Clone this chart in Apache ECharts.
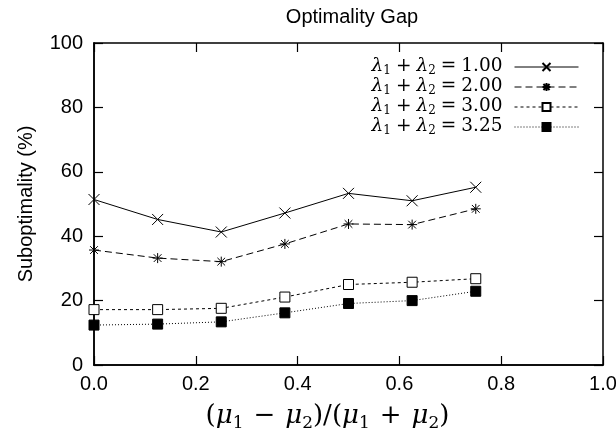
<html>
<head>
<meta charset="utf-8">
<script src="https://cdn.jsdelivr.net/npm/echarts@6/dist/echarts.min.js"></script>
</head>
<body style="margin:0">
<div id="main" style="width:616px;height:433px"></div>
<script>
var ratios = [0, 0.125, 0.25, 0.375, 0.5, 0.625, 0.75];
var seriesNames = ['1.00', '2.00', '3.00', '3.25'];
var gap100 = [51.4, 45.2, 41.3, 47.2, 53.3, 51.0, 55.2];
var gap200 = [35.7, 33.2, 32.1, 37.6, 43.8, 43.6, 48.5];
var gap300 = [17.2, 17.2, 17.6, 21.1, 25.0, 25.7, 26.8];
var gap325 = [12.4, 12.7, 13.4, 16.2, 19.1, 20.0, 22.9];

function pairs(vals) {
    var out = [];
    for (var i = 0; i < ratios.length; i++) out.push([ratios[i], vals[i]]);
    return out;
}

var myChart = echarts.init(document.getElementById('main'));

var sans = 'Liberation Sans';
var serif = 'DejaVu Serif';
var plotW = 616 - 94 - 13;
var plotH = 433 - 43 - 68;

var mathRich = {
    m: {fontFamily: serif, fontSize: 18.5, fontStyle: 'italic', color: '#000', verticalAlign: 'top'},
    t: {fontFamily: serif, fontSize: 18.5, color: '#000', verticalAlign: 'top'},
    o: {fontFamily: serif, fontSize: 18.5, color: '#000', verticalAlign: 'top', padding: [0, 5, 0, 5]},
    s: {fontFamily: serif, fontSize: 12, color: '#000', verticalAlign: 'bottom', padding: [8, 0, 0, 0]}
};
var nameRich = {
    m: {fontFamily: serif, fontSize: 26, fontStyle: 'italic', color: '#000', verticalAlign: 'top'},
    t: {fontFamily: serif, fontSize: 26, color: '#000', verticalAlign: 'top'},
    o: {fontFamily: serif, fontSize: 26, color: '#000', verticalAlign: 'top', padding: [0, 10, 0, 10]},
    s: {fontFamily: serif, fontSize: 17, color: '#000', verticalAlign: 'bottom', padding: [12, 0, 0, 0]}
};

var styles = [
    {symbol: 'path://M0,0L10,10M10,0L0,10', type: 'solid', fill: 'transparent', size: 11},
    {symbol: 'path://M0,0L10,10M10,0L0,10M5,-1.5L5,11.5M-1.5,5L11.5,5', type: [7, 4], fill: 'transparent', size: 10},
    {symbol: 'rect', type: [3, 3], fill: '#fff', size: 10},
    {symbol: 'rect', type: [1, 2], fill: '#000', size: 10}
];
var allData = [gap100, gap200, gap300, gap325];

var series = [];
for (var k = 0; k < 4; k++) {
    series.push({
        name: seriesNames[k],
        type: 'line',
        data: pairs(allData[k]),
        symbol: styles[k].symbol,
        symbolSize: styles[k].size,
        showAllSymbol: true,
        lineStyle: {color: '#000', width: 1, type: styles[k].type},
        itemStyle: {color: styles[k].fill, borderColor: '#000', borderWidth: 1},
        z: 5 - k
    });
}

// gnuplot style inward ticks: extra axes moved onto the opposite edge,
// so their outward ticks point into the plot
function tickAxis(pos, off, max, step) {
    return {
        type: 'value', min: 0, max: max, interval: step,
        position: pos, offset: off,
        axisLine: {show: true, onZero: false, lineStyle: {color: '#000', width: 1.5}},
        axisTick: {show: true, length: 9, lineStyle: {color: '#000', width: 1.2}},
        axisLabel: {show: false}, splitLine: {show: false}
    };
}

myChart.setOption({
    backgroundColor: '#fff',
    animation: false,
    title: {
        text: 'Optimality Gap',
        left: 347,
        top: 2,
        textAlign: 'center',
        textStyle: {fontFamily: sans, fontSize: 20, fontWeight: 'normal', color: '#000'}
    },
    legend: {
        right: 32,
        top: 52,
        orient: 'vertical',
        align: 'right',
        itemWidth: 64,
        itemHeight: 10,
        itemGap: 0,
        data: seriesNames,
        lineStyle: {width: 1},
        formatter: function (n) {
            return '{m|λ}{s|1}{o|+}{m|λ}{s|2}{o|=}{t|' + n + '}';
        },
        textStyle: {rich: mathRich, padding: [0, 7, 0, 0]}
    },
    grid: {left: 94, right: 13, top: 43, bottom: 68, outerBoundsMode: 'none', containLabel: false},
    xAxis: [{
        type: 'value', min: 0, max: 1, interval: 0.2,
        axisLine: {show: true, onZero: false, lineStyle: {color: '#000', width: 1.5}},
        axisTick: {show: false},
        splitLine: {show: false},
        axisLabel: {
            margin: 9, fontFamily: sans, fontSize: 20, color: '#000',
            formatter: function (v) { return v.toFixed(1); }
        },
        name: '{t|(}{m|μ}{s|1}{o|−}{m|μ}{s|2}{t|)/(}{m|μ}{s|1}{o|+}{m|μ}{s|2}{t|)}',
        nameLocation: 'middle',
        nameGap: 38,
        nameTextStyle: {rich: nameRich, padding: [0, 42, 0, 0]}
    },
        tickAxis('top', -plotH, 1, 0.2),
        tickAxis('bottom', -plotH, 1, 0.2)
    ],
    yAxis: [{
        type: 'value', min: 0, max: 100, interval: 20,
        axisLine: {show: true, onZero: false, lineStyle: {color: '#000', width: 1.5}},
        axisTick: {show: false},
        splitLine: {show: false},
        axisLabel: {margin: 11, fontFamily: sans, fontSize: 20, color: '#000'},
        name: 'Suboptimality (%)',
        nameLocation: 'middle',
        nameGap: 58,
        nameTextStyle: {fontFamily: sans, fontSize: 20, color: '#000'}
    },
        tickAxis('right', -plotW, 100, 20),
        tickAxis('left', -plotW, 100, 20)
    ],
    series: series
});
</script>
</body>
</html>
